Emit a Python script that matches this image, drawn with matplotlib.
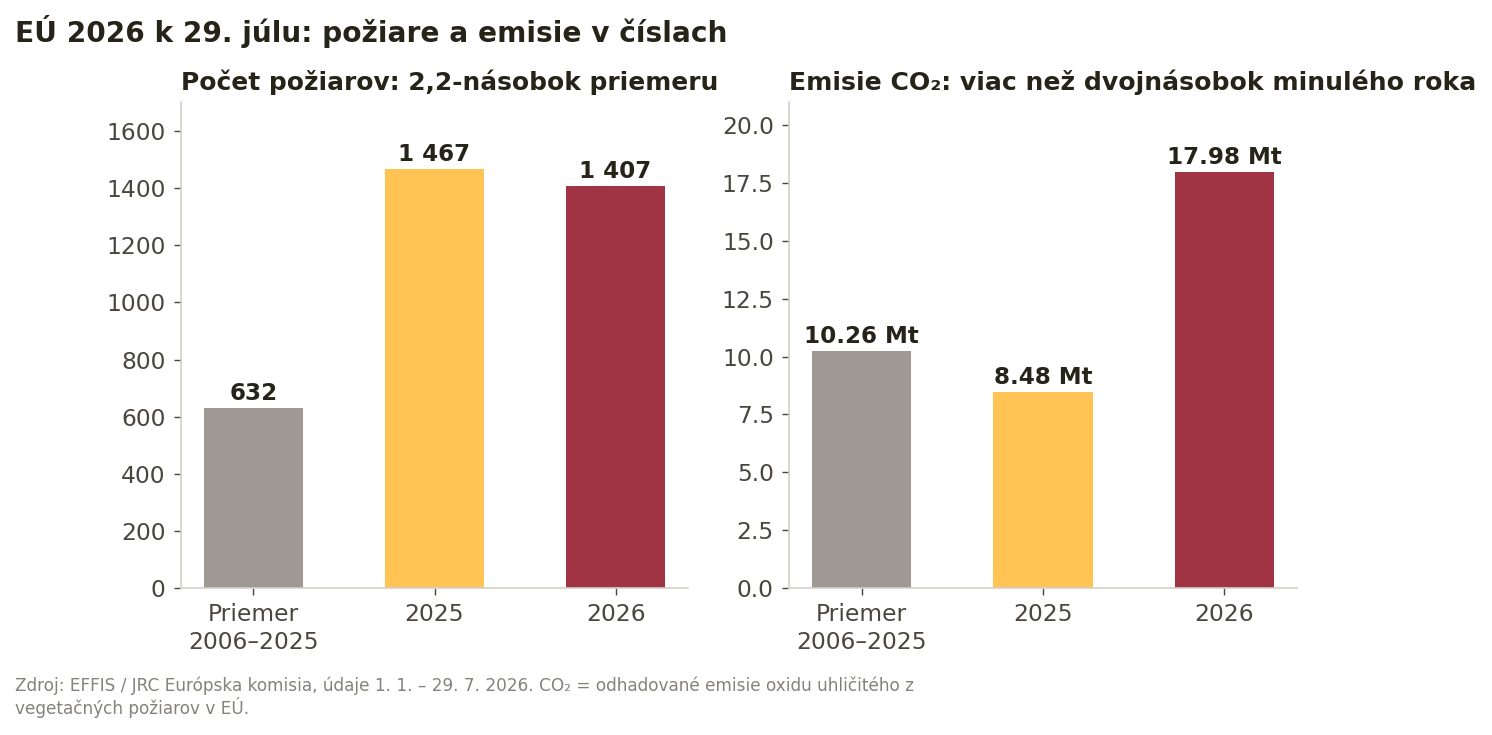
import matplotlib
matplotlib.use("Agg")
import matplotlib.pyplot as plt

plt.rcParams['font.family'] = ['DejaVu Sans']

categories = ["Priemer\n2006–2025", "2025", "2026"]
fires = [632, 1467, 1407]
fire_labels = ["632", "1 467", "1 407"]
emissions = [10.26, 8.48, 17.98]
emission_labels = ["10.26 Mt", "8.48 Mt", "17.98 Mt"]
colors = ["#9e9a93", "#ffc453", "#a03444"]

title = "EÚ 2026 k 29. júlu: požiare a emisie v číslach"
left_title = "Počet požiarov: 2,2-násobok priemeru"
right_title = "Emisie CO₂: viac než dvojnásobok minulého roka"
footer = ("Zdroj: EFFIS / JRC Európska komisia, údaje 1. 1. – 29. 7. 2026. CO₂ = odhadované emisie oxidu uhličitého z\n"
          "vegetačných požiarov v EÚ.")

TEXT = "#262319"
TICK = "#4a463f"
SPINE = "#d4cfc8"

fig = plt.figure(figsize=(14.92, 7.35), dpi=100)
W, H = 1492, 735
ax1 = fig.add_axes([181 / W, 1 - 588 / H, (688 - 181) / W, (588 - 102) / H])
ax2 = fig.add_axes([789 / W, 1 - 588 / H, (1297 - 789) / W, (588 - 102) / H])

def style(ax, vals, labels, ylim):
    x = range(len(vals))
    bars = ax.bar(x, vals, width=0.55, color=colors, zorder=2)
    ax.set_xlim(-0.4, 2.4)
    ax.set_ylim(0, ylim)
    ax.set_xticks(list(x))
    ax.set_xticklabels(categories, linespacing=1.25)
    for s in ["top", "right"]:
        ax.spines[s].set_visible(False)
    for s in ["left", "bottom"]:
        ax.spines[s].set_color(SPINE)
        ax.spines[s].set_linewidth(1.2)
    ax.tick_params(axis="both", colors=TICK, labelsize=16.8, length=5, width=1, pad=6)
    for b, lab in zip(bars, labels):
        ax.annotate(lab, (b.get_x() + b.get_width() / 2, b.get_height()),
                    xytext=(0, 2), textcoords="offset points",
                    ha="center", va="bottom", fontsize=16.6, fontweight="bold", color=TEXT)

style(ax1, fires, fire_labels, 1702)
ax1.set_yticks([0, 200, 400, 600, 800, 1000, 1200, 1400, 1600])
style(ax2, emissions, emission_labels, 21.0)
yt = [0, 2.5, 5, 7.5, 10, 12.5, 15, 17.5, 20]
ax2.set_yticks(yt)
ax2.set_yticklabels([f"{v:.1f}" for v in yt])

fig.text(181 / W, 1 - 82 / H, left_title, fontsize=17.9, fontweight="bold", color=TEXT,
         va="center", ha="left")
fig.text(789 / W, 1 - 82 / H, right_title, fontsize=18.1, fontweight="bold", color=TEXT,
         va="center", ha="left")
fig.text(15 / W, 1 - 32 / H, title, fontsize=20.2, fontweight="bold", color=TEXT,
         va="center", ha="left")
fig.text(15 / W, 1 - 697 / H, footer, fontsize=12.2, color="#85817b",
         va="center", ha="left", linespacing=1.1)

fig.savefig("out.png", dpi=100)
